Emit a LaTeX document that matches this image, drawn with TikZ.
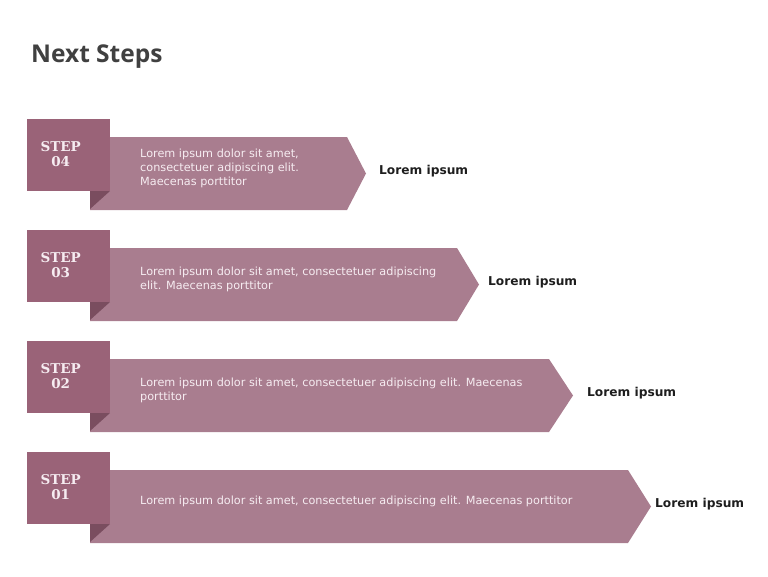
\documentclass[tikz,border=0pt]{standalone}
\usepackage{xcolor}
\usepackage{fontspec}
\setmainfont{DejaVu Sans}
\newfontfamily\titlefont{Open Sans}
\newfontfamily\stepfont{DejaVu Serif}
\usetikzlibrary{positioning, calc}
\definecolor{stepmauve}{RGB}{154, 99, 120}
\definecolor{bandmauve}{RGB}{169, 125, 143}
\definecolor{foldmauve}{RGB}{122, 77, 95}
\definecolor{titlegrey}{RGB}{64, 64, 64}
\definecolor{outcometext}{RGB}{30, 30, 30}
\definecolor{bandtext}{RGB}{246, 236, 241}

\begin{document}
\begin{tikzpicture}[x=1pt, y=-1pt,
    stepsq/.style={fill=stepmauve, minimum width=83pt, minimum height=72pt, inner sep=0pt,
          anchor=north west},
    steplbl/.style={align=center, inner sep=0pt, text=bandtext,
          font=\stepfont\bfseries\fontsize{13.5}{15}\selectfont},
    desc/.style={anchor=west, align=left, inner sep=0pt, text=bandtext,
          font=\fontsize{11.25}{14}\selectfont},
    outcome/.style={anchor=west, inner sep=0pt, text=outcometext,
          font=\bfseries\fontsize{12.2}{14}\selectfont}]
    \useasboundingbox (0,0) rectangle (768,576);
    \node[anchor=west, inner sep=0pt, text=titlegrey, font=\titlefont\bfseries\fontsize{24.5}{28}\selectfont]
        (title) at (31,57) {Next Steps};
    % one row per step: number / top / band end / tip / text / label x
    \foreach \n/\t/\r/\tip/\body/\lx in {
        04/119/347/366/{Lorem ipsum dolor sit amet,\\consectetuer adipiscing elit.\\Maecenas  porttitor}/379,
        03/230/457/479/{Lorem ipsum dolor sit amet, consectetuer adipiscing\\elit. Maecenas porttitor}/488,
        02/341/549/573/{Lorem ipsum dolor sit amet, consectetuer adipiscing elit. Maecenas\\porttitor}/587,
        01/452/628/651/{Lorem ipsum dolor sit amet, consectetuer adipiscing elit. Maecenas  porttitor}/655}{
        \fill[bandmauve] (90,\t+18) -- (\r,\t+18) -- (\tip,\t+54.5) -- (\r,\t+91) -- (90,\t+91) -- cycle;
        \fill[foldmauve] (90,\t+72) -- (110,\t+72) -- (90,\t+90) -- cycle;
        \node[stepsq] (step\n) at (27,\t) {};
        \node[steplbl] (lbl\n) at ($(step\n.center)+(-8,-1.5)$) {STEP\\\n};
        \node[desc] (desc\n) at (140,\t+49) {\body};
        \node[outcome] (out\n) at (\lx,\t+52) {Lorem ipsum};
    }
\end{tikzpicture}
\end{document}
